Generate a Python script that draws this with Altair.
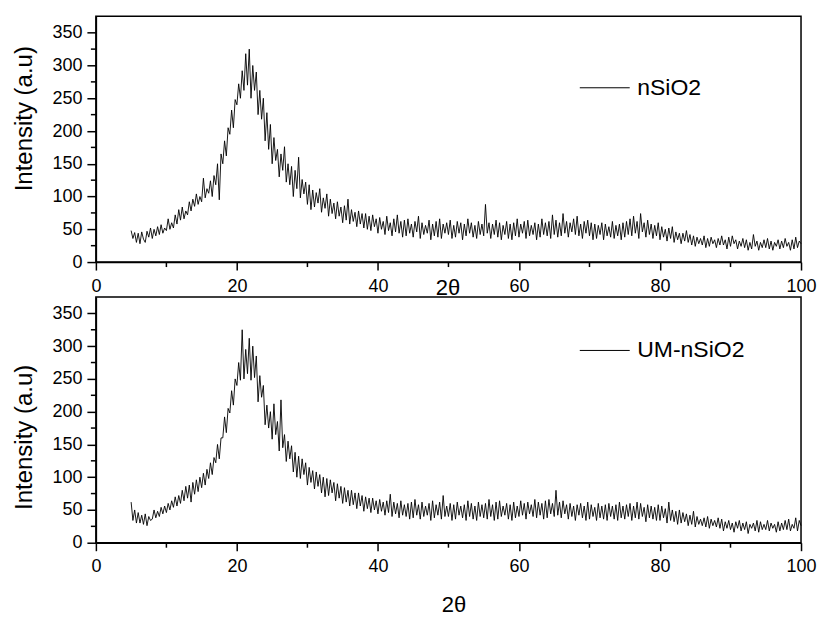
import altair as alt
import pandas as pd

# 2-theta sampling grid: start and step (degrees)
theta_start = 5.0
theta_step = 0.25

# nSiO2 intensities, 4 readings per degree from 5 to 99.75, then 100
nsio2 = [
    48, 36, 45, 30,   44, 28, 46, 35,   30, 47, 38, 52,   36, 50, 40, 54,   42, 57, 44, 52,    # 5-9
    48, 66, 50, 60,   52, 72, 58, 80,   64, 84, 66, 78,   72, 92, 78, 96,   85, 104, 88, 100,  # 10-14
    92, 128, 98, 112, 105, 124, 100, 132, 118, 150, 95, 165, 150, 185, 162, 205, 195, 232, 205, 248,  # 15-19
    240, 272, 250, 292, 262, 318, 270, 325, 250, 300, 262, 290, 225, 262, 218, 250, 185, 228, 172, 210,  # 20-24
    150, 190, 155, 172, 130, 165, 140, 176, 122, 150, 118, 146, 100, 140, 112, 160, 98, 126, 104, 122,  # 25-29
    88, 118, 80, 110,  84, 106, 90, 112,  76, 98, 82, 104,  70, 96, 74, 90,  66, 92, 70, 84,   # 30-34
    60, 86, 64, 96,    58, 80, 62, 76,    54, 78, 58, 74,   52, 74, 50, 70,  48, 72, 54, 66,   # 35-39
    44, 68, 50, 62,    42, 70, 48, 60,    40, 66, 46, 72,   44, 62, 38, 64,  40, 66, 44, 58,   # 40-44
    38, 62, 46, 70,    36, 60, 42, 56,    44, 64, 34, 58,   40, 62, 38, 66,  36, 58, 44, 60,   # 45-49
    42, 64, 36, 56,    38, 62, 44, 60,    34, 58, 40, 66,   44, 60, 38, 56,  36, 62, 42, 58,   # 50-54
    40, 88, 44, 60,    36, 58, 42, 64,    38, 60, 34, 56,   42, 62, 36, 58,  34, 60, 40, 66,   # 55-59
    38, 58, 44, 62,    36, 64, 40, 56,    42, 60, 34, 58,   38, 66, 42, 60,  40, 62, 36, 72,   # 60-64
    42, 64, 38, 60,    40, 74, 44, 62,    38, 60, 46, 66,   42, 70, 40, 58,  36, 62, 44, 64,   # 65-69
    40, 60, 34, 58,    36, 56, 42, 60,    34, 58, 40, 54,   38, 62, 36, 56,  40, 58, 34, 60,   # 70-74
    38, 62, 42, 66,    40, 70, 44, 62,    36, 74, 46, 60,   38, 64, 42, 58,  36, 56, 40, 60,   # 75-79
    34, 54, 38, 50,    32, 52, 36, 54,    30, 46, 34, 44,   28, 44, 32, 48,  30, 42, 26, 40,   # 80-84
    24, 38, 28, 36,    26, 40, 22, 36,    24, 38, 28, 34,   22, 36, 26, 40,  26, 34, 20, 38,   # 85-89
    24, 40, 28, 34,    20, 32, 24, 36,    22, 34, 18, 30,   20, 42, 24, 32,  18, 30, 22, 34,   # 90-94
    22, 36, 20, 32,    18, 30, 24, 34,    20, 32, 22, 36,   24, 30, 18, 34,  20, 38, 22, 32,   # 95-99
    28,                                                                                         # 100
]

# UM-nSiO2 intensities, same grid
um_nsio2 = [
    62, 34, 50, 30,   46, 30, 42, 28,   44, 26, 40, 34,   36, 50, 38, 48,   40, 54, 44, 56,    # 5-9
    46, 60, 50, 64,   54, 70, 56, 72,   60, 80, 64, 86,   68, 88, 62, 92,   74, 96, 78, 100,   # 10-14
    84, 106, 88, 112, 98, 122, 104, 130, 122, 150, 128, 160, 160, 192, 168, 205, 198, 232, 210, 250,  # 15-19
    240, 275, 248, 325, 250, 295, 258, 312, 248, 300, 252, 285, 215, 255, 222, 240, 180, 210, 175, 200,  # 20-24
    158, 212, 165, 185, 140, 218, 145, 165, 124, 155, 128, 148, 108, 138, 100, 132, 98, 128, 104, 122,  # 25-29
    88, 115, 92, 110,  82, 108, 86, 104,  76, 100, 70, 98,  72, 96, 76, 92,  64, 90, 68, 86,   # 30-34
    60, 84, 62, 80,    56, 80, 58, 76,    52, 76, 56, 72,   48, 70, 52, 68,  46, 68, 50, 64,   # 35-39
    44, 66, 48, 62,    42, 64, 46, 74,    40, 62, 44, 60,   38, 64, 42, 58,  40, 60, 36, 62,   # 40-44
    38, 66, 42, 58,    36, 62, 40, 56,    42, 60, 34, 64,   38, 58, 42, 62,  36, 72, 40, 56,   # 45-49
    40, 60, 34, 58,    36, 62, 42, 56,    38, 58, 34, 64,   40, 60, 36, 56,  34, 62, 40, 58,   # 50-54
    38, 60, 36, 66,    40, 58, 34, 62,    36, 64, 40, 56,   42, 60, 36, 58,  34, 62, 38, 56,   # 55-59
    40, 64, 42, 60,    36, 62, 44, 58,    40, 66, 38, 62,   42, 60, 36, 64,  38, 66, 44, 60,   # 60-64
    40, 80, 42, 62,    38, 64, 44, 58,    36, 60, 40, 56,   34, 58, 42, 60,  38, 56, 34, 62,   # 65-69
    36, 58, 40, 54,    34, 60, 38, 56,    36, 58, 34, 60,   40, 56, 36, 58,  34, 62, 38, 56,   # 70-74
    36, 58, 40, 60,    34, 56, 38, 62,    36, 60, 40, 54,   32, 58, 38, 56,  36, 54, 34, 58,   # 75-79
    34, 56, 38, 52,    30, 62, 34, 50,    32, 48, 28, 50,   30, 46, 32, 44,  26, 42, 28, 48,   # 80-84
    24, 40, 28, 36,    26, 38, 24, 40,    22, 36, 26, 34,   24, 38, 22, 36,  18, 32, 22, 34,   # 85-89
    20, 30, 16, 32,    22, 34, 18, 30,    20, 32, 14, 28,   22, 30, 18, 34,  16, 32, 20, 28,   # 90-94
    20, 34, 18, 30,    22, 28, 16, 32,    18, 30, 20, 34,   20, 36, 18, 28,  22, 38, 18, 34,   # 95-99
    26,                                                                                         # 100
]

x_major = [0, 20, 40, 60, 80, 100]
x_minor = [10, 30, 50, 70, 90]
y_major = [0, 50, 100, 150, 200, 250, 300, 350]
y_minor = [25, 75, 125, 175, 225, 275, 325]

X_DOMAIN = [0, 100]
Y_DOMAIN = [0, 375]
W, H = 706, 246
FONT = "Liberation Sans"


def panel(values, name, xtitle_x, xtitle_y, ytitle_y, legend_y):
    df = pd.DataFrame({
        "theta": [theta_start + theta_step * i for i in range(len(values))],
        "intensity": values,
        "series": [name] * len(values),
    })
    xscale = alt.Scale(domain=X_DOMAIN, nice=False, zero=False)
    yscale = alt.Scale(domain=Y_DOMAIN, nice=False)
    xaxis = alt.Axis(values=x_major, title="2θ", titleX=xtitle_x, titleY=xtitle_y,
                     titleAlign="center", titleBaseline="alphabetic", labelFlush=False,
                     titleFontSize=22, tickSize=8, labelPadding=7)
    yaxis = alt.Axis(values=y_major, title="Intensity (a.u)", titleX=-71, titleY=ytitle_y,
                     titleAlign="center", titleBaseline="middle", titleAngle=270, labelFlush=False,
                     titleFontSize=24, tickSize=9, labelPadding=5)
    line = alt.Chart(df).mark_line(strokeWidth=0.9).encode(
        x=alt.X("theta:Q", scale=xscale, axis=xaxis, title="2θ"),
        y=alt.Y("intensity:Q", scale=yscale, axis=yaxis, title="Intensity (a.u)"),
        color=alt.Color("series:N", scale=alt.Scale(range=["black"]),
                        legend=alt.Legend(orient="none", legendX=484, legendY=legend_y, title=None,
                                          symbolType="stroke", symbolSize=2500, symbolStrokeWidth=1,
                                          labelFontSize=23, labelFont=FONT, labelColor="black",
                                          labelOffset=7, padding=0)),
    )
    xminor = alt.Chart(pd.DataFrame({"v": x_minor})).mark_rule(color="black", strokeWidth=1.5).encode(
        x=alt.X("v:Q", scale=xscale, axis=xaxis, title="2θ"),
        y=alt.value(H), y2=alt.value(H + 5),
    )
    yminor = alt.Chart(pd.DataFrame({"v": y_minor})).mark_rule(color="black", strokeWidth=1.5).encode(
        y=alt.Y("v:Q", scale=yscale, axis=yaxis, title="Intensity (a.u)"),
        x=alt.value(-5), x2=alt.value(0),
    )
    return alt.layer(line, xminor, yminor).properties(width=W, height=H)


top = panel(nsio2, "nSiO2", 352, 32, 102, 46)
bottom = panel(um_nsio2, "UM-nSiO2", 358, 69, 140, 28)

chart = alt.vconcat(top, bottom, spacing=35, bounds="flush").resolve_scale(
    color="independent"
).resolve_legend(color="independent").configure_view(
    stroke="black", strokeWidth=1.5
).configure_axis(
    grid=False, domainColor="black", domainWidth=1.5, tickColor="black", tickWidth=1.5,
    labelFont=FONT, labelFontSize=18, labelColor="black",
    titleFont=FONT, titleFontWeight="normal", titleColor="black",
).properties(
    padding={"left": 12, "top": 15, "right": 2, "bottom": 2},
    background="white",
)

chart.save("out.html", embed_options={"renderer": "svg", "actions": False})
